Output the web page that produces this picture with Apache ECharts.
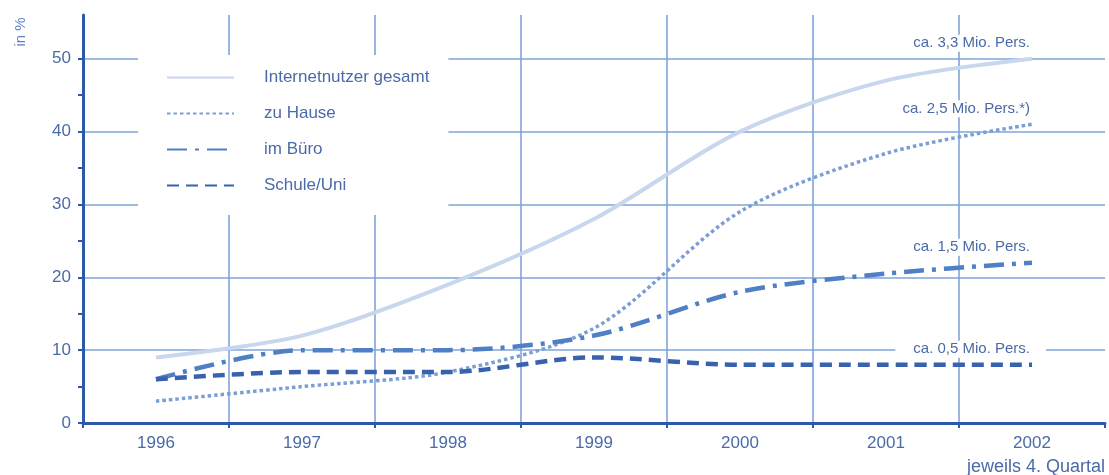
<!DOCTYPE html>
<html>
<head>
<meta charset="utf-8">
<script src="https://cdn.jsdelivr.net/npm/echarts@6/dist/echarts.min.js"></script>
<style>
  html, body { margin: 0; padding: 0; background: #fff; }
  #chart { width: 1109px; height: 475px; }
</style>
</head>
<body>
<div id="chart"></div>
<script>
// Internetnutzer nach Nutzungsort, jeweils 4. Quartal, Anteil in %
const years = ['1996', '1997', '1998', '1999', '2000', '2001', '2002'];
const gesamt = [9, 12, 19, 28, 40, 47, 50];
const zuHause = [3, 5, 7, 13, 29, 37, 41];
const imBuero = [6, 10, 10, 12, 18, 20.5, 22];
const schuleUni = [6, 7, 7, 9, 8, 8, 8];

const seriesNames = ['Internetnutzer gesamt', 'zu Hause', 'im Büro', 'Schule/Uni'];
const endNotes = ['ca. 3,3 Mio. Pers.', 'ca. 2,5 Mio. Pers.*)', 'ca. 1,5 Mio. Pers.', 'ca. 0,5 Mio. Pers.'];
const yLabelValues = [0, 10, 20, 30, 40, 50];
const yTickValues = [0, 5, 10, 15, 20, 25, 30, 35, 40, 45, 50];
const unitLabel = 'in %';
const periodNote = 'jeweils 4. Quartal';

const FONT = '"Liberation Sans", Arial, sans-serif';
const AXIS = '#2d5aa8';
const GRID = '#7fa4d9';
const TEXT = '#4b6aa8';
const Y_MAX = 56;

// the label at the last point of each line names the absolute number of users
function withEndNote(values, note, wide) {
  const last = values.length - 1;
  return values.map((v, i) => i !== last ? v : {
    value: v,
    label: {
      show: true,
      position: 'top',
      align: 'right',
      distance: 7,
      offset: wide ? [14, 0] : [2, 0],
      formatter: note,
      color: TEXT,
      fontFamily: FONT,
      fontSize: 15,
      backgroundColor: '#fff',
      padding: wide ? [1, 16, 1, 18] : [1, 4]
    }
  });
}

const lineDefs = [
  { values: gesamt, color: '#c8d6ee', width: 4, type: 'solid' },
  { values: zuHause, color: '#7a9fd4', width: 3.5, type: [3.5, 3] },
  { values: imBuero, color: '#4f7fc4', width: 4.5, type: [20, 8, 4, 8] },
  { values: schuleUni, color: '#3862ae', width: 4.5, type: [12, 7] }
];

const chart = echarts.init(document.getElementById('chart'), null, { renderer: 'canvas' });

chart.setOption({
  animation: false,
  textStyle: { fontFamily: FONT },
  grid: { left: 83, right: 4, top: 15, bottom: 52 },
  legend: {
    orient: 'vertical',
    left: 138,
    top: 55,
    padding: [14, 19, 21, 28],
    backgroundColor: '#fff',
    itemWidth: 67,
    itemHeight: 16,
    itemGap: 19,
    selectedMode: false,
    data: seriesNames,
    itemStyle: { opacity: 0 },
    textStyle: { fontSize: 17, color: TEXT, fontFamily: FONT, padding: [0, 0, 0, 25] }
  },
  xAxis: {
    type: 'category',
    data: years,
    boundaryGap: true,
    axisLine: { lineStyle: { color: AXIS, width: 3 } },
    axisTick: { show: true, length: 5, lineStyle: { color: AXIS, width: 2 } },
    axisLabel: { color: TEXT, fontSize: 17, margin: 12, fontFamily: FONT },
    splitLine: { show: true, showMinLine: false, showMaxLine: false, lineStyle: { color: GRID, width: 1.6 } }
  },
  yAxis: [
    {
      // visible axis: line, ticks every 5, labels every 10
      type: 'value',
      min: 0,
      max: Y_MAX,
      interval: 10,
      axisLine: { show: true, lineStyle: { color: AXIS, width: 3 } },
      axisTick: { show: true, length: 5, customValues: yTickValues, lineStyle: { color: AXIS, width: 2 } },
      minorTick: { show: false },
      axisLabel: {
        color: TEXT, fontSize: 17, margin: 12, fontFamily: FONT,
        customValues: yLabelValues
      },
      splitLine: { show: false }
    },
    {
      // same scale, only carries the horizontal grid every 10
      type: 'value',
      min: 0,
      max: Y_MAX,
      interval: 10,
      position: 'left',
      axisLine: { show: false },
      axisTick: { show: false },
      axisLabel: { show: false },
      splitLine: { show: true, showMinLine: false, showMaxLine: false, lineStyle: { color: GRID, width: 1.6 } }
    }
  ],
  series: lineDefs.map((d, k) => ({
    name: seriesNames[k],
    type: 'line',
    yAxisIndex: 0,
    data: withEndNote(d.values, endNotes[k], k === 3),
    symbol: 'circle',
    symbolSize: 0,
    showSymbol: true,
    smooth: 0.3,
    silent: true,
    lineStyle: { color: d.color, width: d.width, type: d.type, cap: 'butt' },
    itemStyle: { color: d.color },
    z: 2 + k
  })),
  graphic: [
    {
      type: 'text', x: 21, y: 32, rotation: Math.PI / 2,
      style: {
        text: unitLabel, fill: '#5d80c0', fontSize: 15, fontFamily: FONT,
        textAlign: 'center', textVerticalAlign: 'middle', align: 'center', verticalAlign: 'middle'
      }
    },
    {
      type: 'text', x: 1105, y: 467,
      style: {
        text: periodNote, fill: TEXT, fontSize: 18, fontFamily: FONT,
        textAlign: 'right', textVerticalAlign: 'middle', align: 'right', verticalAlign: 'middle'
      }
    }
  ]
});
</script>
</body>
</html>
